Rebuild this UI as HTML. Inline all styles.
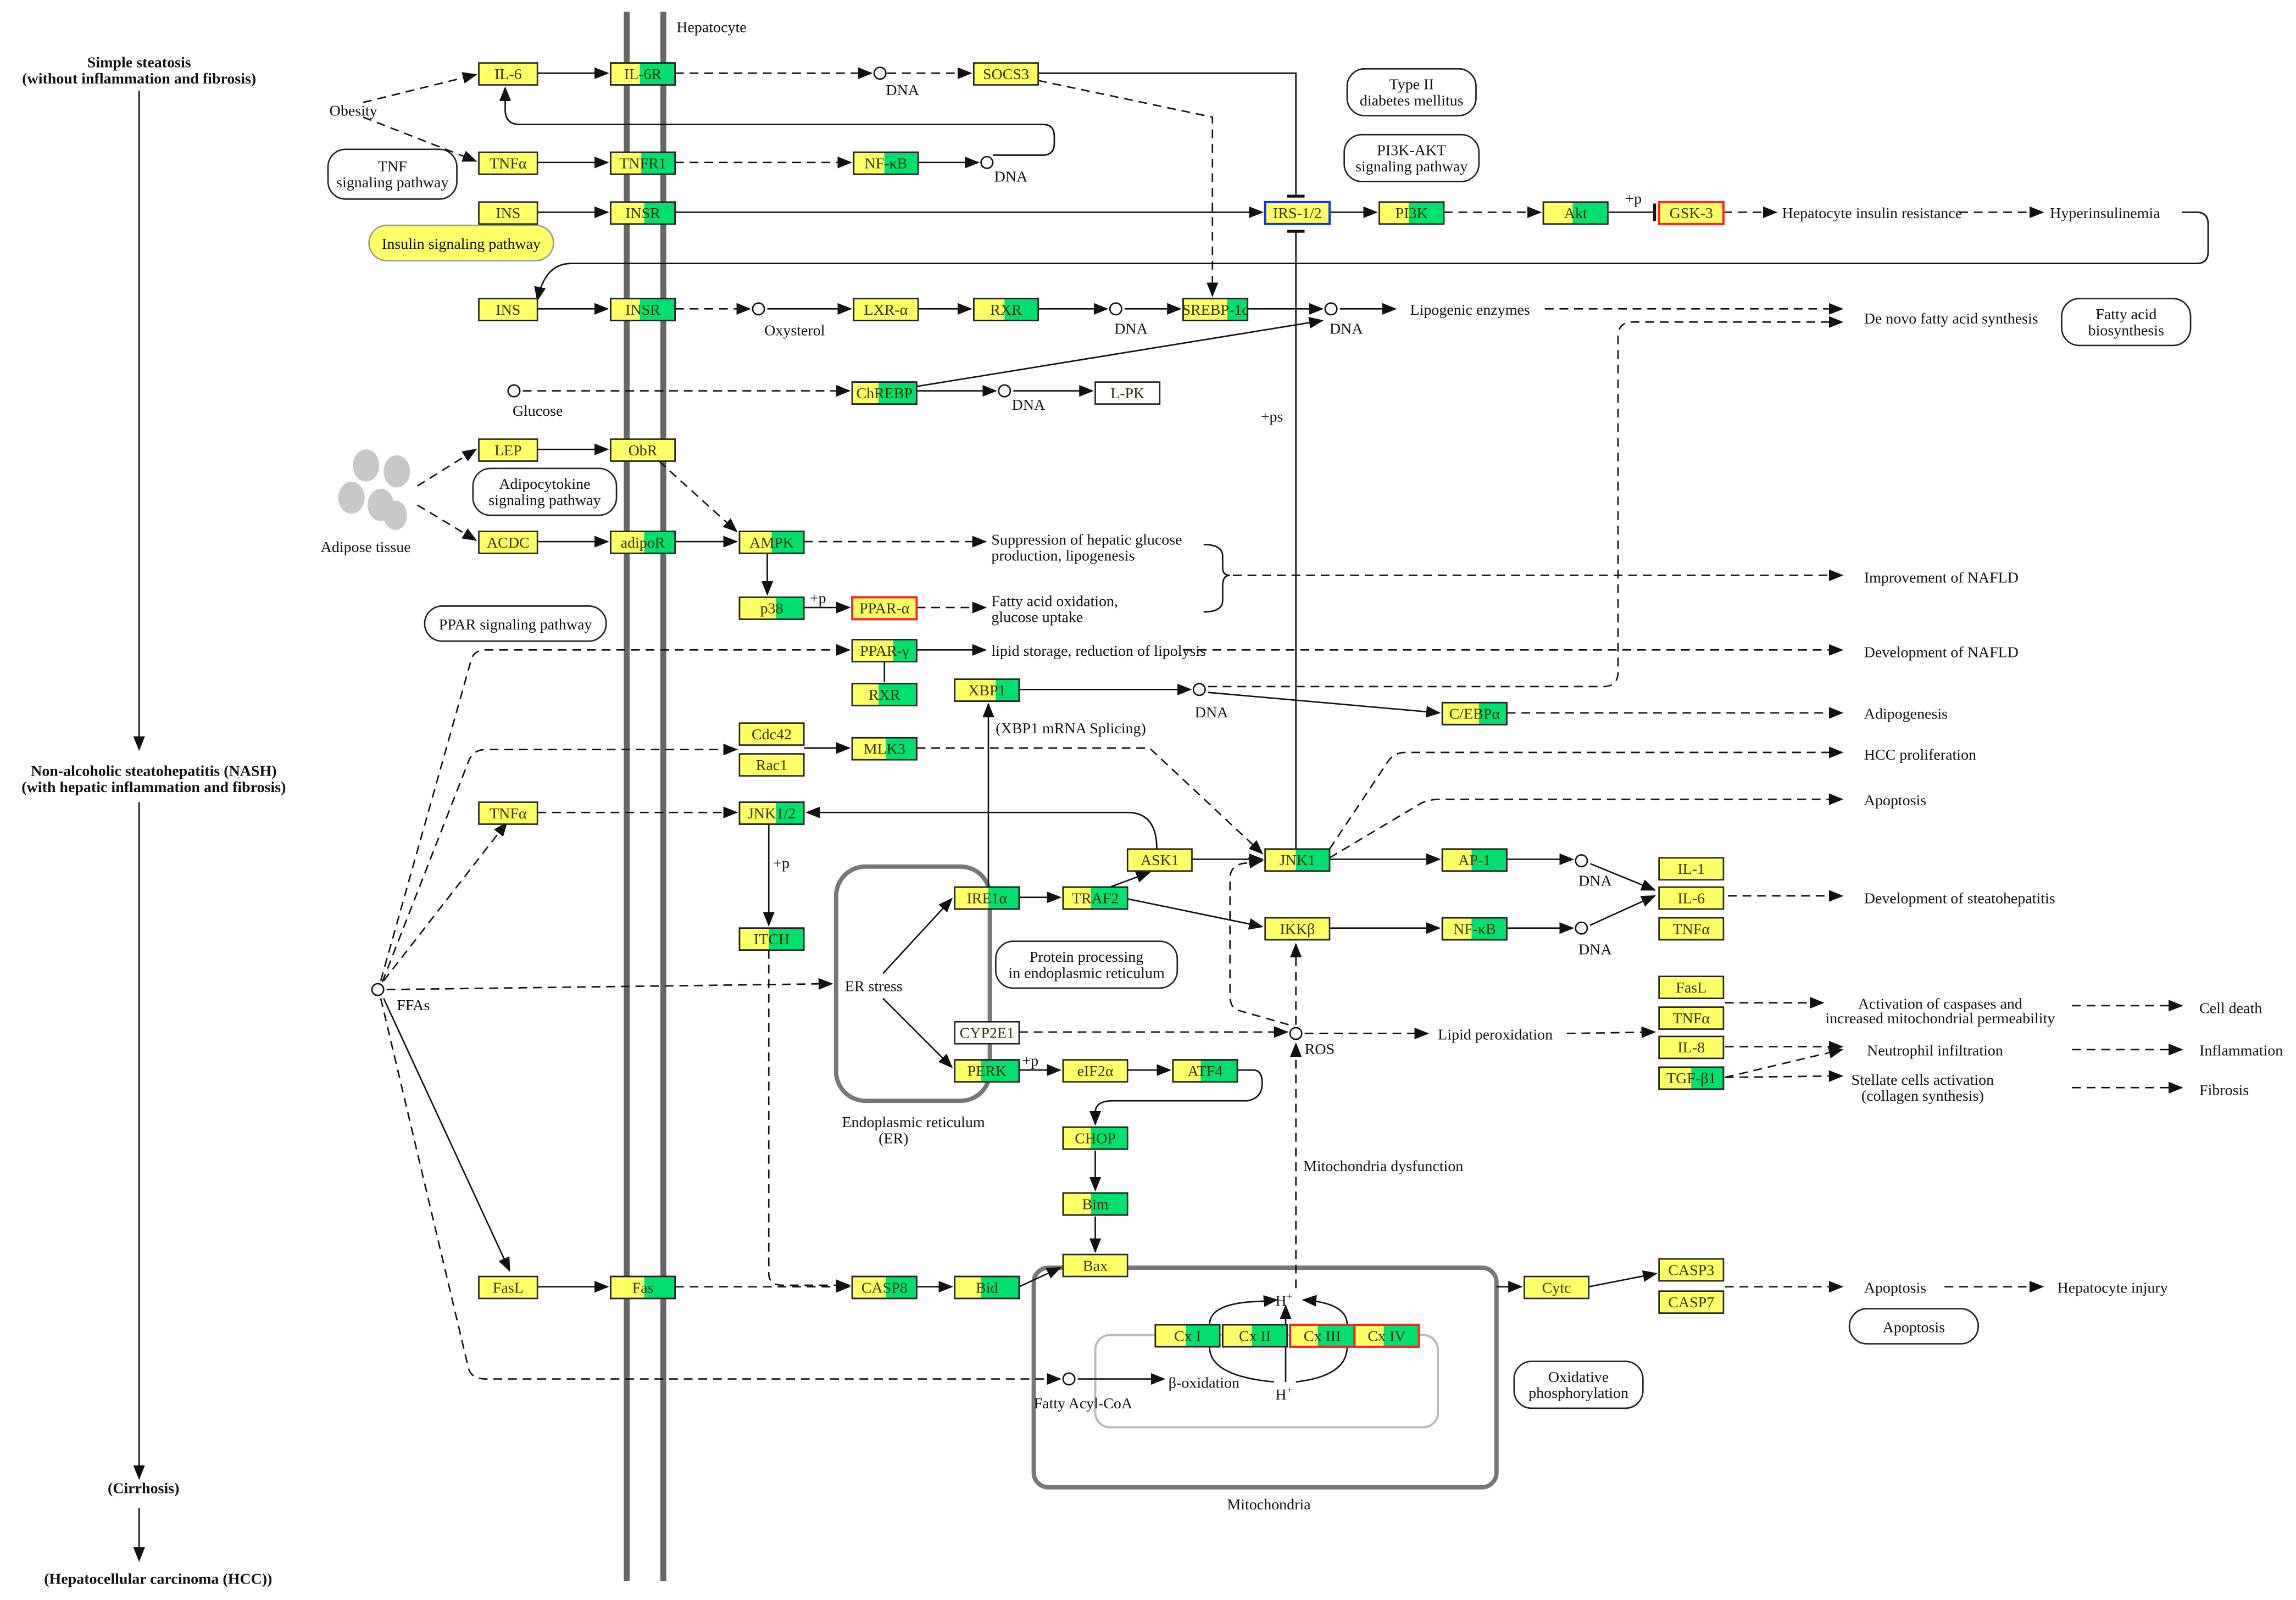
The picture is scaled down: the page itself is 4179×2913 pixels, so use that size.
<!DOCTYPE html>
<html><head><meta charset="utf-8"><style>
html,body{margin:0;padding:0;background:#fff;}
svg{display:block;}
text{font-family:"Liberation Serif",serif;font-size:10.5px;fill:#111;}
.g text{fill:#333300;}
.n{stroke:#222;stroke-width:1;}
.l{stroke:#111;stroke-width:1;fill:none;}
.d{stroke:#111;stroke-width:1;fill:none;stroke-dasharray:6,4;}
.b{fill:#fff;stroke:#222;stroke-width:1;}
</style></head><body>
<svg width="4179" height="2913" viewBox="0 0 1568 1093" xmlns="http://www.w3.org/2000/svg">
<defs>
<marker id="a" markerWidth="10" markerHeight="8" refX="9" refY="4" orient="auto" markerUnits="userSpaceOnUse"><path d="M0,0 L10,4 L0,8 z" fill="#111"/></marker>
<marker id="t" markerWidth="2" markerHeight="12" refX="1" refY="6" orient="auto" markerUnits="userSpaceOnUse"><rect x="0" y="0" width="2" height="12" fill="#111"/></marker>
</defs>
<rect width="1568" height="1093" fill="#fff"/>
<!-- membrane -->
<line x1="428" y1="8" x2="428" y2="1080" stroke="#666" stroke-width="4"/>
<line x1="453" y1="8" x2="453" y2="1080" stroke="#666" stroke-width="4"/>
<text x="462" y="22">Hepatocyte</text>

<!-- compartments -->
<rect x="571" y="592" width="105" height="160" rx="20" fill="none" stroke="#777" stroke-width="3"/>
<rect x="706" y="866" width="316" height="150" rx="10" fill="none" stroke="#777" stroke-width="3"/>
<rect x="748" y="912" width="234" height="63" rx="10" fill="none" stroke="#bbb" stroke-width="1.5"/>
<text x="575" y="770">Endoplasmic reticulum</text><text x="600" y="781">(ER)</text>
<text x="838" y="1031">Mitochondria</text>

<!-- left column -->
<g font-weight="bold" style="font-weight:bold">
<text x="95" y="46" text-anchor="middle" font-weight="bold">Simple steatosis</text>
<text x="95" y="57" text-anchor="middle" font-weight="bold">(without inflammation and fibrosis)</text>
<text x="105" y="530" text-anchor="middle" font-weight="bold">Non-alcoholic steatohepatitis (NASH)</text>
<text x="105" y="541" text-anchor="middle" font-weight="bold">(with hepatic inflammation and fibrosis)</text>
<text x="98" y="1020" text-anchor="middle" font-weight="bold">(Cirrhosis)</text>
<text x="108" y="1082" text-anchor="middle" font-weight="bold">(Hepatocellular carcinoma (HCC))</text>
</g>
<line class="l" x1="95" y1="62" x2="95" y2="512" marker-end="url(#a)"/>
<line class="l" x1="95" y1="548" x2="95" y2="1010" marker-end="url(#a)"/>
<line class="l" x1="95" y1="1030" x2="95" y2="1066" marker-end="url(#a)"/>

<!-- adipose blobs -->
<g fill="#c8c8c8">
<ellipse cx="250" cy="318" rx="9" ry="11"/><ellipse cx="271" cy="322" rx="9" ry="11"/>
<ellipse cx="240" cy="340" rx="9" ry="11"/><ellipse cx="260" cy="345" rx="9" ry="11"/>
<ellipse cx="270" cy="352" rx="8" ry="10"/>
</g>
<text x="219" y="377">Adipose tissue</text>

<!-- pathway label boxes -->
<rect class="b" x="224" y="102" width="88" height="34" rx="12"/><text x="268" y="117" text-anchor="middle">TNF</text><text x="268" y="128" text-anchor="middle">signaling pathway</text>
<rect x="252" y="154" width="126" height="24" rx="12" fill="#ffff66" stroke="#999"/><text x="315" y="170" text-anchor="middle">Insulin signaling pathway</text>
<rect class="b" x="920" y="47" width="88" height="32" rx="12"/><text x="964" y="61" text-anchor="middle">Type II</text><text x="964" y="72" text-anchor="middle">diabetes mellitus</text>
<rect class="b" x="918" y="92" width="92" height="32" rx="12"/><text x="964" y="106" text-anchor="middle">PI3K-AKT</text><text x="964" y="117" text-anchor="middle">signaling pathway</text>
<rect class="b" x="1408" y="204" width="88" height="32" rx="12"/><text x="1452" y="218" text-anchor="middle">Fatty acid</text><text x="1452" y="229" text-anchor="middle">biosynthesis</text>
<rect class="b" x="323" y="320" width="98" height="32" rx="12"/><text x="372" y="334" text-anchor="middle">Adipocytokine</text><text x="372" y="345" text-anchor="middle">signaling pathway</text>
<rect class="b" x="290" y="414" width="124" height="24" rx="12"/><text x="352" y="430" text-anchor="middle">PPAR signaling pathway</text>
<rect class="b" x="680" y="643" width="124" height="32" rx="12"/><text x="742" y="657" text-anchor="middle">Protein processing</text><text x="742" y="668" text-anchor="middle">in endoplasmic reticulum</text>
<rect class="b" x="1263" y="894" width="88" height="24" rx="12"/><text x="1307" y="910" text-anchor="middle">Apoptosis</text>
<rect class="b" x="1034" y="930" width="88" height="32" rx="12"/><text x="1078" y="944" text-anchor="middle">Oxidative</text><text x="1078" y="955" text-anchor="middle">phosphorylation</text>

<!-- circles -->
<g fill="#fff" stroke="#111">
<circle cx="601" cy="50" r="4"/><circle cx="674" cy="111" r="4"/><circle cx="518" cy="211" r="4"/>
<circle cx="762" cy="211" r="4"/><circle cx="909" cy="211" r="4"/><circle cx="351" cy="267" r="4"/>
<circle cx="686" cy="267" r="4"/><circle cx="819" cy="471" r="4"/><circle cx="1080" cy="588" r="4"/>
<circle cx="1080" cy="634" r="4"/><circle cx="258" cy="676" r="4"/><circle cx="885" cy="706" r="4"/>
<circle cx="730" cy="942" r="4"/>
</g>

<!-- free labels -->
<text x="225" y="79">Obesity</text>
<text x="605" y="65">DNA</text><text x="679" y="124">DNA</text>
<text x="522" y="229">Oxysterol</text><text x="761" y="228">DNA</text><text x="908" y="228">DNA</text>
<text x="963" y="215">Lipogenic enzymes</text>
<text x="1273" y="221">De novo fatty acid synthesis</text>
<text x="350" y="284">Glucose</text><text x="691" y="280">DNA</text>
<text x="861" y="288">+ps</text>
<text x="1110" y="139">+p</text>
<text x="1217" y="149">Hepatocyte insulin resistance</text>
<text x="1400" y="149">Hyperinsulinemia</text>
<text x="677" y="372">Suppression of hepatic glucose</text><text x="677" y="383">production, lipogenesis</text>
<text x="553" y="412">+p</text>
<text x="677" y="414">Fatty acid oxidation,</text><text x="677" y="425">glucose uptake</text>
<text x="1273" y="398">Improvement of NAFLD</text>
<text x="677" y="448">lipid storage, reduction of lipolysis</text>
<text x="1273" y="449">Development of NAFLD</text>
<text x="816" y="490">DNA</text>
<text x="680" y="501">(XBP1 mRNA Splicing)</text>
<text x="1273" y="491">Adipogenesis</text>
<text x="1273" y="519">HCC proliferation</text>
<text x="1273" y="550">Apoptosis</text>
<text x="528" y="593">+p</text>
<text x="1078" y="605">DNA</text><text x="1078" y="652">DNA</text>
<text x="1273" y="617">Development of steatohepatitis</text>
<text x="577" y="677">ER stress</text>
<text x="271" y="690">FFAs</text>
<text x="891" y="720">ROS</text>
<text x="982" y="710">Lipid  peroxidation</text>
<text x="698" y="728">+p</text>
<text x="1325" y="689" text-anchor="middle">Activation of caspases and</text><text x="1325" y="699" text-anchor="middle">increased mitochondrial permeability</text>
<text x="1502" y="692">Cell death</text>
<text x="1275" y="721">Neutrophil infiltration</text><text x="1502" y="721">Inflammation</text>
<text x="1313" y="741" text-anchor="middle">Stellate cells activation</text><text x="1313" y="752" text-anchor="middle">(collagen synthesis)</text>
<text x="1502" y="748">Fibrosis</text>
<text x="890" y="800">Mitochondria dysfunction</text>
<text x="1273" y="883">Apoptosis</text><text x="1405" y="883">Hepatocyte injury</text>
<text x="871" y="892">H<tspan font-size="7" dy="-4">+</tspan></text>
<text x="871" y="956">H<tspan font-size="7" dy="-4">+</tspan></text>
<text x="706" y="962">Fatty Acyl-CoA</text>
<text x="798" y="948">β-oxidation</text>

<!-- connectors -->
<g>
<path class="d" d="M248,70 L325,51" marker-end="url(#a)"/>
<path class="d" d="M248,80 L325,110" marker-end="url(#a)"/>
<path class="l" d="M367,50 L415,50" marker-end="url(#a)"/>
<path class="d" d="M461,50 L595,50" marker-end="url(#a)"/>
<path class="d" d="M606,50 L663,50" marker-end="url(#a)"/>
<path class="l" d="M709,50 L885,50 L885,134" marker-end="url(#t)"/>
<path class="d" d="M709,55 L828,80 L828,202" marker-end="url(#a)"/>
<path class="l" d="M678,106 L712,106 Q720,106 720,98 L720,93 Q720,85 712,85 L355,85 Q345,85 345,75 L345,60" marker-end="url(#a)"/>
<path class="l" d="M367,111 L415,111" marker-end="url(#a)"/>
<path class="d" d="M461,111 L581,111" marker-end="url(#a)"/>
<path class="l" d="M627,111 L668,111" marker-end="url(#a)"/>
<path class="l" d="M367,145 L415,145" marker-end="url(#a)"/>
<path class="l" d="M461,145 L862,145" marker-end="url(#a)"/>
<path class="l" d="M908,145 L940,145" marker-end="url(#a)"/>
<path class="d" d="M986,145 L1052,145" marker-end="url(#a)"/>
<path class="l" d="M1098,145 L1130,145" marker-end="url(#t)"/>
<path class="d" d="M1177,145 L1213,145" marker-end="url(#a)"/>
<path class="d" d="M1338,145 L1395,145" marker-end="url(#a)"/>
<path class="l" d="M1490,145 L1500,145 Q1508,145 1508,153 L1508,172 Q1508,180 1500,180 L390,180 Q372,180 367,205" marker-end="url(#a)"/>
<path class="l" d="M367,211 L415,211" marker-end="url(#a)"/>
<path class="d" d="M461,211 L512,211" marker-end="url(#a)"/>
<path class="l" d="M524,211 L581,211" marker-end="url(#a)"/>
<path class="l" d="M627,211 L663,211" marker-end="url(#a)"/>
<path class="l" d="M709,211 L756,211" marker-end="url(#a)"/>
<path class="l" d="M768,211 L806,211" marker-end="url(#a)"/>
<path class="l" d="M852,211 L903,211" marker-end="url(#a)"/>
<path class="l" d="M915,211 L953,211" marker-end="url(#a)"/>
<path class="d" d="M1055,211 L1258,211" marker-end="url(#a)"/>
<path class="d" d="M357,267 L580,267" marker-end="url(#a)"/>
<path class="l" d="M626,267 L680,267" marker-end="url(#a)"/>
<path class="l" d="M692,267 L746,267" marker-end="url(#a)"/>
<path class="l" d="M626,264 L903,219" marker-end="url(#a)"/>
<path class="l" d="M885,580 L885,158" marker-end="url(#t)"/>
<path class="d" d="M285,332 L325,307" marker-end="url(#a)"/>
<path class="d" d="M285,345 L325,369" marker-end="url(#a)"/>
<path class="l" d="M367,307 L415,307" marker-end="url(#a)"/>
<path class="d" d="M450,315 L503,363" marker-end="url(#a)"/>
<path class="l" d="M367,370 L415,370" marker-end="url(#a)"/>
<path class="l" d="M461,370 L503,370" marker-end="url(#a)"/>
<path class="d" d="M549,370 L673,370" marker-end="url(#a)"/>
<path class="l" d="M524,378 L524,406" marker-end="url(#a)"/>
<path class="l" d="M549,415 L580,415" marker-end="url(#a)"/>
<path class="d" d="M626,415 L673,415" marker-end="url(#a)"/>
<path class="l" d="M822,372 Q835,372 835,380 L835,388 Q835,393 840,393 Q835,393 835,400 L835,410 Q835,418 822,418"/>
<path class="d" d="M842,393 L1258,393" marker-end="url(#a)"/>
<path class="l" d="M626,444 L673,444" marker-end="url(#a)"/>
<path class="d" d="M808,444 L1258,444" marker-end="url(#a)"/>
<path class="l" d="M604,452 L604,466"/>
<path class="d" d="M260,670 L322,450 Q324,444 332,444 L580,444" marker-end="url(#a)"/>
<path class="d" d="M261,671 L320,520 Q323,512 332,512 L503,512" marker-end="url(#a)"/>
<path class="d" d="M262,670 L346,562" marker-end="url(#a)"/>
<path class="d" d="M264,676 L568,672" marker-end="url(#a)"/>
<path class="l" d="M262,682 L348,868" marker-end="url(#a)"/>
<path class="d" d="M260,682 L320,935 Q322,942 332,942 L724,942" marker-end="url(#a)"/>
<path class="l" d="M549,511 L580,511" marker-end="url(#a)"/>
<path class="d" d="M626,511 L785,511 L862,583" marker-end="url(#a)"/>
<path class="d" d="M367,555 L503,555" marker-end="url(#a)"/>
<path class="l" d="M790,580 Q790,555 770,555 L551,555" marker-end="url(#a)"/>
<path class="l" d="M525,563 L525,632" marker-end="url(#a)"/>
<path class="d" d="M525,649 L525,870 Q525,878 535,878 L580,878" marker-end="url(#a)"/>
<path class="l" d="M696,471 L813,471" marker-end="url(#a)"/>
<path class="l" d="M675,606 L675,481" marker-end="url(#a)"/>
<path class="l" d="M825,473 L983,487" marker-end="url(#a)"/>
<path class="d" d="M1029,487 L1258,487" marker-end="url(#a)"/>
<path class="d" d="M825,469 L1095,469 Q1105,469 1105,459 L1105,230 Q1105,220 1115,220 L1258,220" marker-end="url(#a)"/>
<path class="l" d="M603,665 L650,614" marker-end="url(#a)"/>
<path class="l" d="M603,682 L650,729" marker-end="url(#a)"/>
<path class="l" d="M696,613 L724,613" marker-end="url(#a)"/>
<path class="l" d="M758,606 L785,596" marker-end="url(#a)"/>
<path class="l" d="M770,614 L862,633" marker-end="url(#a)"/>
<path class="l" d="M814,587 L862,587" marker-end="url(#a)"/>
<path class="l" d="M908,587 L983,587" marker-end="url(#a)"/>
<path class="l" d="M1029,587 L1074,587" marker-end="url(#a)"/>
<path class="l" d="M1086,590 L1130,608" marker-end="url(#a)"/>
<path class="l" d="M908,634 L983,634" marker-end="url(#a)"/>
<path class="l" d="M1029,634 L1074,634" marker-end="url(#a)"/>
<path class="l" d="M1086,632 L1130,612" marker-end="url(#a)"/>
<path class="d" d="M1180,612 L1258,612" marker-end="url(#a)"/>
<path class="d" d="M908,580 L948,520 Q952,514 960,514 L1258,514" marker-end="url(#a)"/>
<path class="d" d="M908,586 L970,549 Q975,546 985,546 L1258,546" marker-end="url(#a)"/>
<path class="d" d="M885,700 L885,645" marker-end="url(#a)"/>
<path class="d" d="M880,700 L845,690 Q840,688 840,680 L840,600 Q840,592 848,590 L862,588" marker-end="url(#a)"/>
<path class="d" d="M696,705 L879,705" marker-end="url(#a)"/>
<path class="d" d="M891,706 L975,706" marker-end="url(#a)"/>
<path class="d" d="M1070,706 L1130,705" marker-end="url(#a)"/>
<path class="l" d="M696,731 L724,731" marker-end="url(#a)"/>
<path class="l" d="M770,731 L799,731" marker-end="url(#a)"/>
<path class="l" d="M845,731 L856,731 Q862,731 862,740 Q862,750 852,752 L760,752 Q748,752 748,760 L748,768" marker-end="url(#a)"/>
<path class="l" d="M748,786 L748,813" marker-end="url(#a)"/>
<path class="l" d="M748,831 L748,855" marker-end="url(#a)"/>
<path class="d" d="M885,880 L885,713" marker-end="url(#a)"/>
<path class="l" d="M367,879 L415,879" marker-end="url(#a)"/>
<path class="d" d="M461,879 L580,879" marker-end="url(#a)"/>
<path class="l" d="M626,879 L650,879" marker-end="url(#a)"/>
<path class="l" d="M696,879 L724,866" marker-end="url(#a)"/>
<path class="l" d="M1022,879 L1039,879" marker-end="url(#a)"/>
<path class="l" d="M1085,879 L1131,870" marker-end="url(#a)"/>
<path class="d" d="M1178,879 L1258,879" marker-end="url(#a)"/>
<path class="d" d="M1328,879 L1395,879" marker-end="url(#a)"/>
<path class="d" d="M1178,685 L1245,685" marker-end="url(#a)"/>
<path class="d" d="M1415,687 L1490,687" marker-end="url(#a)"/>
<path class="d" d="M1178,715 L1258,715" marker-end="url(#a)"/>
<path class="d" d="M1178,736 L1258,717" marker-end="url(#a)"/>
<path class="d" d="M1178,736 L1258,735" marker-end="url(#a)"/>
<path class="d" d="M1415,717 L1490,717" marker-end="url(#a)"/>
<path class="d" d="M1415,743 L1490,743" marker-end="url(#a)"/>
<path class="l" d="M736,942 L795,942" marker-end="url(#a)"/>
<path class="l" d="M826,905 Q826,890 860,889 L872,888" marker-end="url(#a)"/>
<path class="l" d="M920,905 Q920,890 890,888" marker-end="url(#a)"/>
<path class="l" d="M878,905 L878,892" marker-end="url(#a)"/>
<path class="l" d="M826,920 Q826,940 870,944"/>
<path class="l" d="M920,920 Q920,940 885,944"/>
<path class="l" d="M878,920 L878,944"/>
</g>

<!-- gene boxes -->
<g class="g">
<!-- x,y,w, green start -->
<rect class="n" x="327" y="43" width="40" height="15" fill="#ffff66"/><text x="347" y="54" text-anchor="middle">IL-6</text>
<rect class="n" x="417" y="43" width="44" height="15" fill="#ffff66"/><rect x="437" y="43.5" width="23.5" height="14" fill="#00e070"/><rect class="n" x="417" y="43" width="44" height="15" fill="none"/><text x="439" y="54" text-anchor="middle">IL-6R</text>
<rect class="n" x="665" y="43" width="44" height="15" fill="#ffff66"/><text x="687" y="54" text-anchor="middle">SOCS3</text>
<rect class="n" x="327" y="104" width="40" height="15" fill="#ffff66"/><text x="347" y="115" text-anchor="middle">TNFα</text>
<rect class="n" x="417" y="104" width="44" height="15" fill="#ffff66"/><rect x="438" y="104.5" width="22.5" height="14" fill="#00e070"/><rect class="n" x="417" y="104" width="44" height="15" fill="none"/><text x="439" y="115" text-anchor="middle">TNFR1</text>
<rect class="n" x="583" y="104" width="44" height="15" fill="#ffff66"/><rect x="604" y="104.5" width="22.5" height="14" fill="#00e070"/><rect class="n" x="583" y="104" width="44" height="15" fill="none"/><text x="605" y="115" text-anchor="middle">NF-κB</text>
<rect class="n" x="327" y="138" width="40" height="15" fill="#ffff66"/><text x="347" y="149" text-anchor="middle">INS</text>
<rect class="n" x="417" y="138" width="44" height="15" fill="#ffff66"/><rect x="440" y="138.5" width="20.5" height="14" fill="#00e070"/><rect class="n" x="417" y="138" width="44" height="15" fill="none"/><text x="439" y="149" text-anchor="middle">INSR</text>
<rect x="864" y="138" width="44" height="15" fill="#ffff66" stroke="#1030ff" stroke-width="1.5"/><text x="886" y="149" text-anchor="middle">IRS-1/2</text>
<rect class="n" x="942" y="138" width="44" height="15" fill="#ffff66"/><rect x="962" y="138.5" width="23.5" height="14" fill="#00e070"/><rect class="n" x="942" y="138" width="44" height="15" fill="none"/><text x="964" y="149" text-anchor="middle">PI3K</text>
<rect class="n" x="1054" y="138" width="44" height="15" fill="#ffff66"/><rect x="1074" y="138.5" width="23.5" height="14" fill="#00e070"/><rect class="n" x="1054" y="138" width="44" height="15" fill="none"/><text x="1076" y="149" text-anchor="middle">Akt</text>
<rect x="1133" y="138" width="44" height="15" fill="#ffff66" stroke="#ff2020" stroke-width="1.5"/><text x="1155" y="149" text-anchor="middle">GSK-3</text>
<rect class="n" x="327" y="204" width="40" height="15" fill="#ffff66"/><text x="347" y="215" text-anchor="middle">INS</text>
<rect class="n" x="417" y="204" width="44" height="15" fill="#ffff66"/><rect x="437" y="204.5" width="23.5" height="14" fill="#00e070"/><rect class="n" x="417" y="204" width="44" height="15" fill="none"/><text x="439" y="215" text-anchor="middle">INSR</text>
<rect class="n" x="583" y="204" width="44" height="15" fill="#ffff66"/><text x="605" y="215" text-anchor="middle">LXR-α</text>
<rect class="n" x="665" y="204" width="44" height="15" fill="#ffff66"/><rect x="686" y="204.5" width="22.5" height="14" fill="#00e070"/><rect class="n" x="665" y="204" width="44" height="15" fill="none"/><text x="687" y="215" text-anchor="middle">RXR</text>
<rect class="n" x="808" y="204" width="44" height="15" fill="#ffff66"/><rect x="838" y="204.5" width="13.5" height="14" fill="#00e070"/><rect class="n" x="808" y="204" width="44" height="15" fill="none"/><text x="830" y="215" text-anchor="middle">SREBP-1c</text>
<rect class="n" x="582" y="261" width="44" height="15" fill="#ffff66"/><rect x="600" y="261.5" width="25.5" height="14" fill="#00e070"/><rect class="n" x="582" y="261" width="44" height="15" fill="none"/><text x="604" y="272" text-anchor="middle">ChREBP</text>
<rect class="n" x="748" y="261" width="44" height="15" fill="#fff"/><text x="770" y="272" text-anchor="middle">L-PK</text>
<rect class="n" x="327" y="300" width="40" height="15" fill="#ffff66"/><text x="347" y="311" text-anchor="middle">LEP</text>
<rect class="n" x="417" y="300" width="44" height="15" fill="#ffff66"/><text x="439" y="311" text-anchor="middle">ObR</text>
<rect class="n" x="327" y="363" width="40" height="15" fill="#ffff66"/><text x="347" y="374" text-anchor="middle">ACDC</text>
<rect class="n" x="417" y="363" width="44" height="15" fill="#ffff66"/><rect x="440" y="363.5" width="20.5" height="14" fill="#00e070"/><rect class="n" x="417" y="363" width="44" height="15" fill="none"/><text x="439" y="374" text-anchor="middle">adipoR</text>
<rect class="n" x="505" y="363" width="44" height="15" fill="#ffff66"/><rect x="527" y="363.5" width="21.5" height="14" fill="#00e070"/><rect class="n" x="505" y="363" width="44" height="15" fill="none"/><text x="527" y="374" text-anchor="middle">AMPK</text>
<rect class="n" x="505" y="408" width="44" height="15" fill="#ffff66"/><rect x="530" y="408.5" width="18.5" height="14" fill="#00e070"/><rect class="n" x="505" y="408" width="44" height="15" fill="none"/><text x="527" y="419" text-anchor="middle">p38</text>
<rect x="582" y="408" width="44" height="15" fill="#ffff66" stroke="#ff2020" stroke-width="1.5"/><text x="604" y="419" text-anchor="middle">PPAR-α</text>
<rect class="n" x="582" y="437" width="44" height="15" fill="#ffff66"/><rect x="610" y="437.5" width="15.5" height="14" fill="#00e070"/><rect class="n" x="582" y="437" width="44" height="15" fill="none"/><text x="604" y="448" text-anchor="middle">PPAR-γ</text>
<rect class="n" x="582" y="467" width="44" height="15" fill="#ffff66"/><rect x="600" y="467.5" width="25.5" height="14" fill="#00e070"/><rect class="n" x="582" y="467" width="44" height="15" fill="none"/><text x="604" y="478" text-anchor="middle">RXR</text>
<rect class="n" x="652" y="464" width="44" height="15" fill="#ffff66"/><rect x="680" y="464.5" width="15.5" height="14" fill="#00e070"/><rect class="n" x="652" y="464" width="44" height="15" fill="none"/><text x="674" y="475" text-anchor="middle">XBP1</text>
<rect class="n" x="505" y="494" width="44" height="15" fill="#ffff66"/><text x="527" y="505" text-anchor="middle">Cdc42</text>
<rect class="n" x="505" y="515" width="44" height="15" fill="#ffff66"/><text x="527" y="526" text-anchor="middle">Rac1</text>
<rect class="n" x="582" y="504" width="44" height="15" fill="#ffff66"/><rect x="605" y="504.5" width="20.5" height="14" fill="#00e070"/><rect class="n" x="582" y="504" width="44" height="15" fill="none"/><text x="604" y="515" text-anchor="middle">MLK3</text>
<rect class="n" x="985" y="480" width="44" height="15" fill="#ffff66"/><rect x="1010" y="480.5" width="18.5" height="14" fill="#00e070"/><rect class="n" x="985" y="480" width="44" height="15" fill="none"/><text x="1007" y="491" text-anchor="middle">C/EBPα</text>
<rect class="n" x="327" y="548" width="40" height="15" fill="#ffff66"/><text x="347" y="559" text-anchor="middle">TNFα</text>
<rect class="n" x="505" y="548" width="44" height="15" fill="#ffff66"/><rect x="530" y="548.5" width="18.5" height="14" fill="#00e070"/><rect class="n" x="505" y="548" width="44" height="15" fill="none"/><text x="527" y="559" text-anchor="middle">JNK1/2</text>
<rect class="n" x="770" y="580" width="44" height="15" fill="#ffff66"/><text x="792" y="591" text-anchor="middle">ASK1</text>
<rect class="n" x="864" y="580" width="44" height="15" fill="#ffff66"/><rect x="885" y="580.5" width="22.5" height="14" fill="#00e070"/><rect class="n" x="864" y="580" width="44" height="15" fill="none"/><text x="886" y="591" text-anchor="middle">JNK1</text>
<rect class="n" x="985" y="580" width="44" height="15" fill="#ffff66"/><rect x="1005" y="580.5" width="23.5" height="14" fill="#00e070"/><rect class="n" x="985" y="580" width="44" height="15" fill="none"/><text x="1007" y="591" text-anchor="middle">AP-1</text>
<rect class="n" x="1133" y="586" width="44" height="15" fill="#ffff66"/><text x="1155" y="597" text-anchor="middle">IL-1</text>
<rect class="n" x="1133" y="606" width="44" height="15" fill="#ffff66"/><text x="1155" y="617" text-anchor="middle">IL-6</text>
<rect class="n" x="1133" y="627" width="44" height="15" fill="#ffff66"/><text x="1155" y="638" text-anchor="middle">TNFα</text>
<rect class="n" x="652" y="606" width="44" height="15" fill="#ffff66"/><rect x="675" y="606.5" width="20.5" height="14" fill="#00e070"/><rect class="n" x="652" y="606" width="44" height="15" fill="none"/><text x="674" y="617" text-anchor="middle">IRE1α</text>
<rect class="n" x="726" y="606" width="44" height="15" fill="#ffff66"/><rect x="745" y="606.5" width="24.5" height="14" fill="#00e070"/><rect class="n" x="726" y="606" width="44" height="15" fill="none"/><text x="748" y="617" text-anchor="middle">TRAF2</text>
<rect class="n" x="864" y="627" width="44" height="15" fill="#ffff66"/><text x="886" y="638" text-anchor="middle">IKKβ</text>
<rect class="n" x="985" y="627" width="44" height="15" fill="#ffff66"/><rect x="1005" y="627.5" width="23.5" height="14" fill="#00e070"/><rect class="n" x="985" y="627" width="44" height="15" fill="none"/><text x="1007" y="638" text-anchor="middle">NF-κB</text>
<rect class="n" x="505" y="634" width="44" height="15" fill="#ffff66"/><rect x="525" y="634.5" width="23.5" height="14" fill="#00e070"/><rect class="n" x="505" y="634" width="44" height="15" fill="none"/><text x="527" y="645" text-anchor="middle">ITCH</text>
<rect class="n" x="652" y="698" width="44" height="15" fill="#fff"/><text x="674" y="709" text-anchor="middle">CYP2E1</text>
<rect class="n" x="652" y="724" width="44" height="15" fill="#ffff66"/><rect x="670" y="724.5" width="25.5" height="14" fill="#00e070"/><rect class="n" x="652" y="724" width="44" height="15" fill="none"/><text x="674" y="735" text-anchor="middle">PERK</text>
<rect class="n" x="726" y="724" width="44" height="15" fill="#ffff66"/><text x="748" y="735" text-anchor="middle">eIF2α</text>
<rect class="n" x="801" y="724" width="44" height="15" fill="#ffff66"/><rect x="820" y="724.5" width="24.5" height="14" fill="#00e070"/><rect class="n" x="801" y="724" width="44" height="15" fill="none"/><text x="823" y="735" text-anchor="middle">ATF4</text>
<rect class="n" x="726" y="770" width="44" height="15" fill="#ffff66"/><rect x="745" y="770.5" width="24.5" height="14" fill="#00e070"/><rect class="n" x="726" y="770" width="44" height="15" fill="none"/><text x="748" y="781" text-anchor="middle">CHOP</text>
<rect class="n" x="726" y="815" width="44" height="15" fill="#ffff66"/><rect x="745" y="815.5" width="24.5" height="14" fill="#00e070"/><rect class="n" x="726" y="815" width="44" height="15" fill="none"/><text x="748" y="826" text-anchor="middle">Bim</text>
<rect class="n" x="726" y="857" width="44" height="15" fill="#ffff66"/><text x="748" y="868" text-anchor="middle">Bax</text>
<rect class="n" x="1133" y="667" width="44" height="15" fill="#ffff66"/><text x="1155" y="678" text-anchor="middle">FasL</text>
<rect class="n" x="1133" y="688" width="44" height="15" fill="#ffff66"/><text x="1155" y="699" text-anchor="middle">TNFα</text>
<rect class="n" x="1133" y="708" width="44" height="15" fill="#ffff66"/><text x="1155" y="719" text-anchor="middle">IL-8</text>
<rect class="n" x="1133" y="729" width="44" height="15" fill="#ffff66"/><rect x="1155" y="729.5" width="21.5" height="14" fill="#00e070"/><rect class="n" x="1133" y="729" width="44" height="15" fill="none"/><text x="1155" y="740" text-anchor="middle">TGF-β1</text>
<rect class="n" x="327" y="872" width="40" height="15" fill="#ffff66"/><text x="347" y="883" text-anchor="middle">FasL</text>
<rect class="n" x="417" y="872" width="44" height="15" fill="#ffff66"/><rect x="440" y="872.5" width="20.5" height="14" fill="#00e070"/><rect class="n" x="417" y="872" width="44" height="15" fill="none"/><text x="439" y="883" text-anchor="middle">Fas</text>
<rect class="n" x="582" y="872" width="44" height="15" fill="#ffff66"/><rect x="605" y="872.5" width="20.5" height="14" fill="#00e070"/><rect class="n" x="582" y="872" width="44" height="15" fill="none"/><text x="604" y="883" text-anchor="middle">CASP8</text>
<rect class="n" x="652" y="872" width="44" height="15" fill="#ffff66"/><rect x="670" y="872.5" width="25.5" height="14" fill="#00e070"/><rect class="n" x="652" y="872" width="44" height="15" fill="none"/><text x="674" y="883" text-anchor="middle">Bid</text>
<rect class="n" x="1041" y="872" width="44" height="15" fill="#ffff66"/><text x="1063" y="883" text-anchor="middle">Cytc</text>
<rect class="n" x="1133" y="860" width="44" height="15" fill="#ffff66"/><text x="1155" y="871" text-anchor="middle">CASP3</text>
<rect class="n" x="1133" y="882" width="44" height="15" fill="#ffff66"/><text x="1155" y="893" text-anchor="middle">CASP7</text>
<rect class="n" x="789" y="905" width="44" height="15" fill="#ffff66"/><rect x="810" y="905.5" width="22.5" height="14" fill="#00e070"/><rect class="n" x="789" y="905" width="44" height="15" fill="none"/><text x="811" y="916" text-anchor="middle">Cx I</text>
<rect class="n" x="835" y="905" width="44" height="15" fill="#ffff66"/><rect x="855" y="905.5" width="23.5" height="14" fill="#00e070"/><rect class="n" x="835" y="905" width="44" height="15" fill="none"/><text x="857" y="916" text-anchor="middle">Cx II</text>
<rect x="881" y="905" width="44" height="15" fill="#ffff66"/><rect x="900" y="905.5" width="24.5" height="14" fill="#00e070"/><rect x="881" y="905" width="44" height="15" fill="none" stroke="#ff2020" stroke-width="1.5"/><text x="903" y="916" text-anchor="middle">Cx III</text>
<rect x="925" y="905" width="44" height="15" fill="#ffff66"/><rect x="945" y="905.5" width="23.5" height="14" fill="#00e070"/><rect x="925" y="905" width="44" height="15" fill="none" stroke="#ff2020" stroke-width="1.5"/><text x="947" y="916" text-anchor="middle">Cx IV</text>
</g>
</svg>
</body></html>
